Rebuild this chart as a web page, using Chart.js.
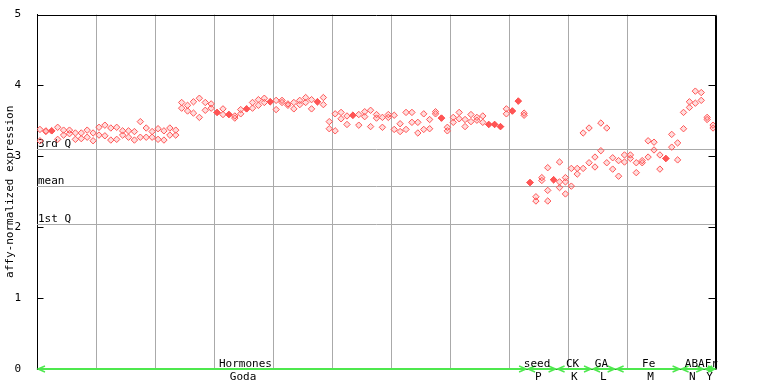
<!DOCTYPE html>
<html>
<head>
<meta charset="utf-8">
<script src="https://cdn.jsdelivr.net/npm/chart.js@4/dist/chart.umd.min.js"></script>
<style>
html,body{margin:0;padding:0;background:#fff;}
canvas{display:block;}
</style>
</head>
<body>
<canvas id="c" width="768" height="384"></canvas>
<script>
// ---- data ----
const rep1 = [3.38,3.35,3.36,3.41,3.37,3.37,3.33,3.33,3.37,3.33,
  3.41,3.44,3.40,3.41,3.36,3.36,3.35,3.49,3.40,3.35,
  3.39,3.36,3.40,3.37,3.76,3.72,3.77,3.82,3.76,3.74,
  3.62,3.67,3.59,3.57,3.66,3.67,3.76,3.80,3.82,3.77,
  3.79,3.79,3.74,3.76,3.79,3.83,3.80,3.77,3.83,3.49,
  3.60,3.62,3.57,3.58,3.59,3.63,3.65,3.59,3.55,3.59,
  3.58,3.46,3.62,3.62,3.48,3.60,3.52,3.63,3.54,3.41,
  3.55,3.62,3.52,3.59,3.55,3.57,3.45,3.45,3.42,3.67,
  3.64,3.78,3.61,2.63,2.43,2.70,2.84,2.67,2.92,2.70,
  2.83,2.83,3.33,3.40,2.99,3.47,3.40,2.98,2.94,3.02,
  3.02,2.91,2.94,3.22,3.20,3.02,2.97,3.31,3.19,3.62,
  3.77,3.92,3.90,3.55,3.44];
const rep2 = [3.22,3.36,3.36,3.24,3.30,3.32,3.24,3.25,3.27,3.22,
  3.30,3.29,3.23,3.24,3.30,3.27,3.23,3.27,3.27,3.27,
  3.24,3.23,3.30,3.30,3.68,3.64,3.61,3.55,3.65,3.68,
  3.62,3.59,3.59,3.54,3.60,3.67,3.68,3.72,3.76,3.77,
  3.66,3.76,3.72,3.67,3.73,3.76,3.67,3.77,3.73,3.39,
  3.36,3.53,3.45,3.58,3.44,3.56,3.42,3.54,3.41,3.55,
  3.38,3.35,3.38,3.48,3.33,3.38,3.39,3.60,3.54,3.36,
  3.48,3.53,3.42,3.49,3.51,3.48,3.45,3.45,3.42,3.60,
  3.64,3.78,3.58,2.63,2.37,2.66,2.52,2.67,2.64,2.64,
  2.58,2.75,2.83,2.91,2.85,3.08,2.91,2.82,2.72,2.92,
  2.97,2.77,2.91,2.99,3.09,2.82,2.97,3.13,2.95,3.39,
  3.69,3.75,3.79,3.52,3.40];
const rep3 = {86: 2.37, 88: 2.56, 89: 2.47};

const refValues = [3.10, 2.58, 2.04];
const refLabels = ['3rd Q', 'mean', '1st Q'];

const groupStart  = [0, 83, 88, 94, 98, 109, 113];
const groupEnd    = [83, 88, 94, 98, 109, 113, 115];
const groupTop    = ['Hormones', 'seed', 'CK', 'GA', 'Fe', 'ABA', 'Fr'];
const groupBottom = ['Goda', 'P', 'K', 'L', 'M', 'N', 'Y'];
const topLabelAt    = [35.3, 84.7, 90.7, 95.6, 103.6, 111.4, 114.2];
const bottomLabelAt = [34.9, 84.9, 91.0, 95.9, 103.9, 111.0, 113.9];

const yTicks = [0, 1, 2, 3, 4, 5];

// ---- build ----
const FONT = '"DejaVu Sans Mono", monospace';
const RED = '#ff5555';
function pts(arr){ return arr.map((v,i)=>({x:i+0.5,y:v})); }
const pts3 = Object.keys(rep3).map(k=>({x:+k+0.5,y:rep3[k]}));
function filledFor(arrA, arrB){
  return ctx => {
    const i = Math.floor(ctx.raw ? ctx.raw.x : 0);
    return (arrA[i] === arrB[i]) ? RED : 'rgba(255,120,120,0.25)';
  };
}
const ds = (data, bg) => ({data, pointStyle:'rectRot', pointRadius:3.2,
  pointBorderColor:RED, pointBorderWidth:1, pointBackgroundColor:bg, showLine:false});

const decor = {
  id:'decor',
  beforeDatasetsDraw(chart){
    const {ctx, chartArea:a, scales:{y}} = chart;
    ctx.save();
    ctx.strokeStyle='#aaaaaa'; ctx.lineWidth=1;
    ctx.font = '11px ' + FONT; ctx.fillStyle='#000'; ctx.textBaseline='alphabetic'; ctx.textAlign='left';
    refValues.forEach((v,k)=>{
      const py = Math.round(y.getPixelForValue(v)) + 0.5;
      ctx.beginPath(); ctx.moveTo(a.left, py); ctx.lineTo(a.right, py); ctx.stroke();
      ctx.fillText(refLabels[k], a.left + 1, py - 2.5);
    });
    ctx.restore();
  },
  afterDatasetsDraw(chart){
    const {ctx, chartArea:a, scales:{x,y}} = chart;
    ctx.save();
    ctx.strokeStyle='#000'; ctx.lineWidth=1;
    const L = Math.round(a.left)+0.5, R = Math.round(a.right)-0.5, T = Math.round(a.top)+0.5, B = Math.round(a.bottom)+0.5;
    ctx.beginPath();
    ctx.moveTo(L, T); ctx.lineTo(R, T); ctx.lineTo(R, B); ctx.lineTo(L, B);
    ctx.stroke();
    ctx.lineWidth = 2;
    ctx.beginPath(); ctx.moveTo(R+0.5, T); ctx.lineTo(R+0.5, B); ctx.stroke();
    ctx.lineWidth = 1;
    yTicks.forEach(v=>{
      const py = Math.round(y.getPixelForValue(v)) + 0.5;
      ctx.beginPath();
      ctx.moveTo(L, py); ctx.lineTo(L+6, py);
      ctx.moveTo(R, py); ctx.lineTo(R-7, py);
      ctx.stroke();
    });
    // green group arrows
    ctx.strokeStyle = '#4ee84e'; ctx.lineWidth = 2;
    const gy = Math.round(a.bottom);
    groupStart.forEach((s,k)=>{
      const x0 = x.getPixelForValue(s) + 1, x1 = x.getPixelForValue(groupEnd[k]) - 1;
      ctx.beginPath();
      ctx.moveTo(x0, gy); ctx.lineTo(x1, gy);
      ctx.stroke();
      ctx.lineWidth = 1.5;
      ctx.beginPath();
      ctx.moveTo(x0+7, gy-3); ctx.lineTo(x0, gy); ctx.lineTo(x0+7, gy+3);
      ctx.moveTo(x1-7, gy-3); ctx.lineTo(x1, gy); ctx.lineTo(x1-7, gy+3);
      ctx.stroke();
      ctx.lineWidth = 2;
    });
    ctx.font = '11px ' + FONT; ctx.fillStyle = '#000'; ctx.textAlign = 'center'; ctx.textBaseline='alphabetic';
    groupTop.forEach((t,k)=>{ ctx.fillText(t, x.getPixelForValue(topLabelAt[k]), B - 2.5); });
    groupBottom.forEach((t,k)=>{ ctx.fillText(t, x.getPixelForValue(bottomLabelAt[k]), B + 10.5); });
    ctx.restore();
  }
};

new Chart(document.getElementById('c'), {
  type:'scatter',
  data:{datasets:[
    ds(pts(rep1), filledFor(rep1, rep2)),
    ds(pts(rep2), filledFor(rep1, rep2)),
    ds(pts3, 'rgba(255,120,120,0.25)')
  ]},
  options:{
    responsive:false, animation:false, devicePixelRatio:1,
    layout:{padding:{left:0, top:13, right:52, bottom:0}},
    plugins:{legend:{display:false}, tooltip:{enabled:false}},
    scales:{
      x:{type:'linear', min:0, max:115,
        ticks:{display:false, stepSize:10},
        grid:{color:'#aaaaaa', drawTicks:false, lineWidth:1},
        border:{display:false},
        afterFit(s){ s.height = 15; }
      },
      y:{type:'linear', min:0, max:5,
        ticks:{stepSize:1, color:'#000', padding:8, font:{family:FONT, size:11}},
        grid:{display:false},
        border:{display:true, color:'#000'},
        title:{display:true, text:'affy-normalized expression', color:'#000', font:{family:FONT, size:11}, padding:{top:4,bottom:0}},
        afterFit(s){ s.width = 37; }
      }
    }
  },
  plugins:[decor]
});
</script>
</body>
</html>
